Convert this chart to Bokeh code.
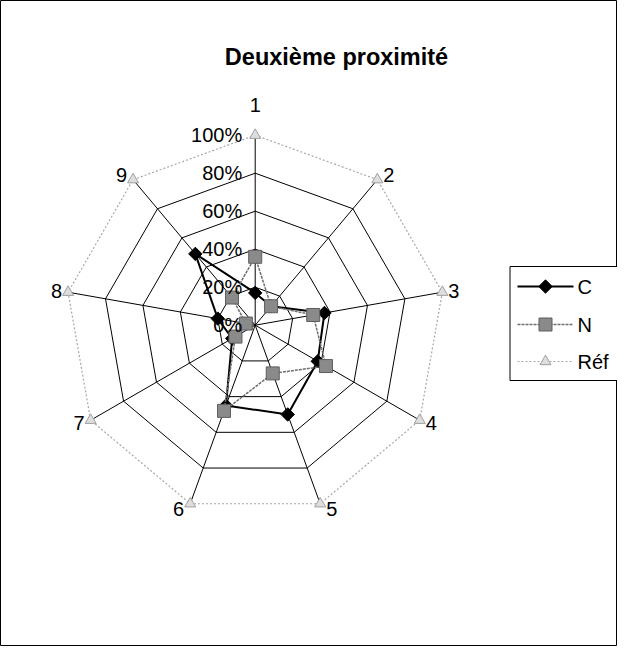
import math
from bokeh.plotting import figure
from bokeh.models import Range1d
from bokeh.core.properties import value
from bokeh.embed import file_html
from bokeh.resources import INLINE

# ---- data ----
categories = ["1", "2", "3", "4", "5", "6", "7", "8", "9"]
series_c = [17, 13, 37, 38, 50, 45, 14, 20, 49]
series_n = [36, 13, 31, 43, 27, 48, 12, 5, 19]
series_ref = [100, 100, 100, 100, 100, 100, 100, 100, 100]
tick_values = [0, 20, 40, 60, 80, 100]
tick_labels = ["0%", "20%", "40%", "60%", "80%", "100%"]
legend_names = ["C", "N", "Réf"]
title_text = "Deuxième proximité"

# ---- layout ----
W, H = 617, 646
CX, CY, R = 254.7, 324.7, 190.0
FONT = value("Liberation Sans")

p = figure(width=W, height=H, x_range=Range1d(0, W), y_range=Range1d(H, 0),
           output_backend="svg", toolbar_location=None, min_border=0,
           x_axis_location=None, y_axis_location=None)
p.grid.visible = False
p.outline_line_color = "black"
p.outline_line_width = 1
p.background_fill_color = "white"
p.border_fill_color = "white"

n = len(categories)
angles = [math.radians(360.0 / n * k) for k in range(n)]


def to_xy(vals):
    xs = [CX + R * v / 100.0 * math.sin(a) for v, a in zip(vals, angles)]
    ys = [CY - R * v / 100.0 * math.cos(a) for v, a in zip(vals, angles)]
    return xs, ys


C_STYLE = dict(marker="square", angle=math.pi / 4, size=9.5, fill_color="black", line_color="black")
N_STYLE = dict(marker="square", size=13, fill_color="#8a8a8a", line_color="#5e5e5e")
R_STYLE = dict(marker="triangle", size=11, fill_color="#dedede", line_color="#a0a0a0")

# grid rings
for t in tick_values[1:-1]:
    xs, ys = to_xy([t] * n)
    p.line(xs + xs[:1], ys + ys[:1], line_color="black", line_width=1)

# spokes
ox, oy = to_xy([100] * n)
p.multi_line([[CX, x] for x in ox], [[CY, y] for y in oy], line_color="black", line_width=1)

# Réf series
rx, ry = to_xy(series_ref)
p.line(rx + rx[:1], ry + ry[:1], line_color="#a8a8a8", line_width=1.2, line_dash="2 2")
p.scatter(rx, ry, **R_STYLE)

# C series
cx_, cy_ = to_xy(series_c)
p.line(cx_ + cx_[:1], cy_ + cy_[:1], line_color="black", line_width=2)
p.scatter(cx_, cy_, **C_STYLE)

# N series
nx, ny = to_xy(series_n)
p.line(nx + nx[:1], ny + ny[:1], line_color="#6e6e6e", line_width=1.5, line_dash="3 1")
p.scatter(nx, ny, **N_STYLE)

# radial tick labels
p.text(x=[CX - 13] * len(tick_values), y=[CY - R * t / 100.0 for t in tick_values],
       text=tick_labels, text_align="right", text_baseline="middle",
       text_font=FONT, text_font_size="20px", text_color="black")

# category labels
lx, ly, la = [], [], []
for a in angles:
    s, c = math.sin(a), math.cos(a)
    px, py = CX + R * s, CY - R * c
    if abs(s) < 0.1:
        lx.append(px)
        ly.append(py - 30 if c > 0 else py + 30)
        la.append("center")
    else:
        lx.append(px + (6 if s > 0 else -6))
        ly.append(py - 6 * c)
        la.append("left" if s > 0 else "right")
for x, y, t, al in zip(lx, ly, categories, la):
    p.text(x=[x], y=[y], text=[t], text_align=al, text_baseline="middle",
           text_font=FONT, text_font_size="20px", text_color="black")

# title
p.text(x=[336], y=[56], text=[title_text], text_align="center", text_baseline="middle",
       text_font=FONT, text_font_size="23.5px", text_font_style="bold", text_color="black")

# legend
p.quad(left=[509.5], right=[640], top=[266], bottom=[380], fill_color="white",
       line_color="black", line_width=1)
rows = [286, 324, 361]
p.line([517, 573], [rows[0]] * 2, line_color="black", line_width=2)
p.scatter([545], [rows[0]], **C_STYLE)
p.line([517, 573], [rows[1]] * 2, line_color="#6e6e6e", line_width=1.5, line_dash="3 1")
p.scatter([545], [rows[1]], **N_STYLE)
p.line([517, 573], [rows[2]] * 2, line_color="#a8a8a8", line_width=1.2, line_dash="2 2")
p.scatter([545], [rows[2]], **R_STYLE)
p.text(x=[577] * 3, y=rows, text=legend_names, text_align="left", text_baseline="middle",
       text_font=FONT, text_font_size="20px", text_color="black")

open("out.html", "w").write(file_html(p, INLINE))
